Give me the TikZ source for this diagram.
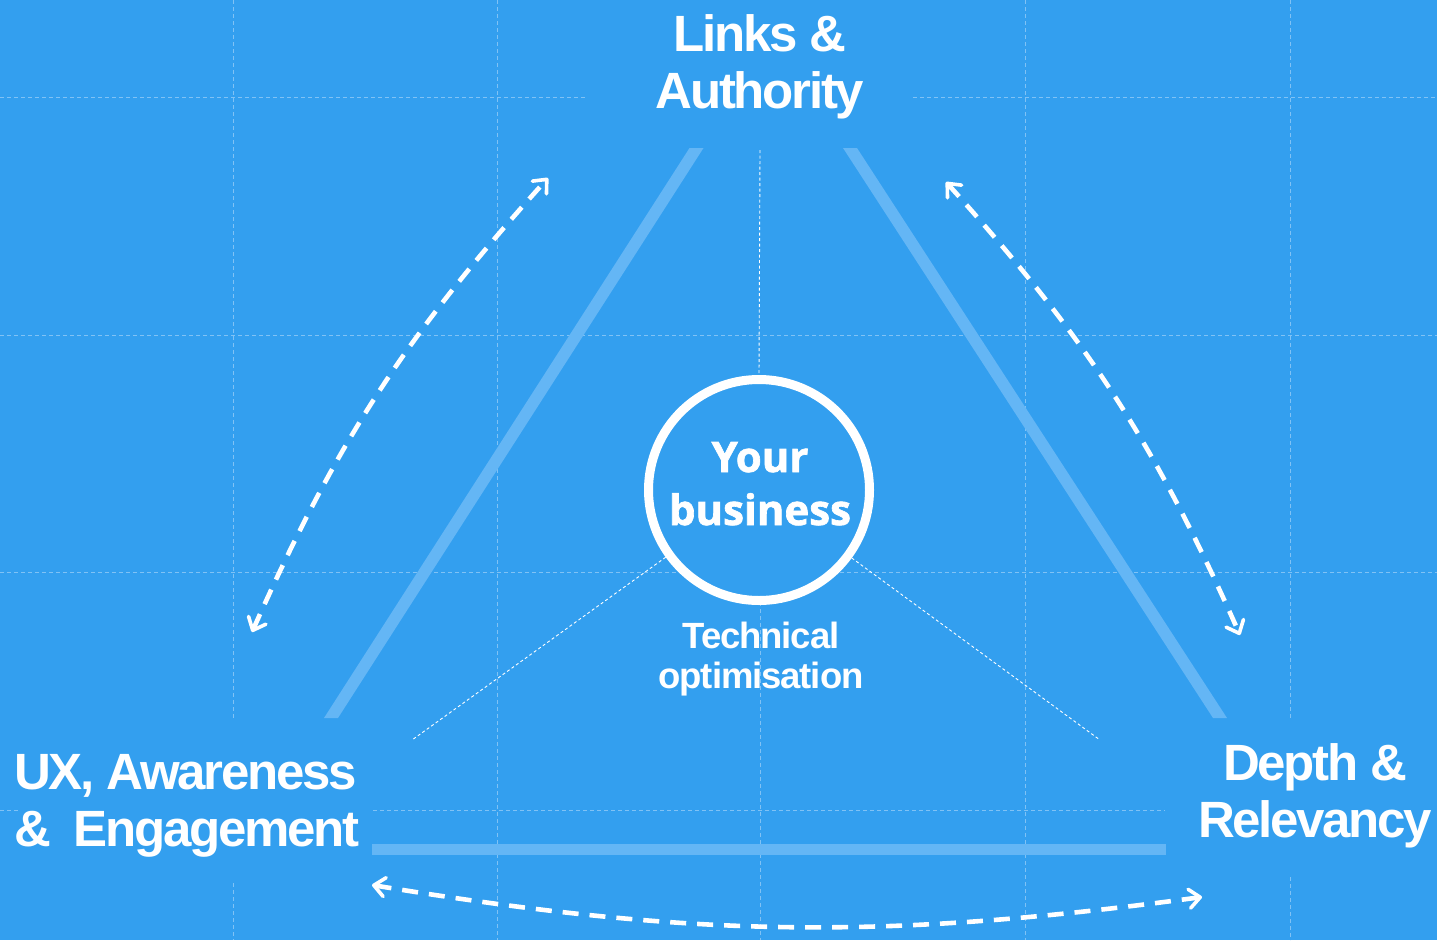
\documentclass[tikz,border=0pt]{standalone}
\usepackage{fontspec}
\setmainfont{Liberation Sans}
\newfontfamily\headfont[LetterSpace=-4.5]{Liberation Sans}
\newfontfamily\techfont[LetterSpace=-3]{Liberation Sans}
\newfontfamily\badgefont[BoldFeatures={FakeBold=1.6}]{Open Sans}
\usetikzlibrary{arrows.meta}

\definecolor{sky}{RGB}{51,159,239}
\definecolor{gridcol}{RGB}{128,194,245}
\definecolor{barcol}{RGB}{100,182,245}

\tikzset{
  barb/.tip={Straight Barb[length=11pt,width=19pt,line width=3.6pt,round]},
  gridline/.style={draw=gridcol, line width=1pt, dash pattern=on 4pt off 3pt},
  hint/.style={draw=white, line width=0.9pt, dash pattern=on 3pt off 2.5pt},
  barfill/.style={fill=barcol, draw=none},
  cyclearrow/.style={draw=white, line width=4.6pt, dash pattern=on 16pt off 11pt,
    {barb}-{barb}},
  pillar/.style={text=white, inner sep=0pt,
    font=\headfont\bfseries\fontsize{51}{57}\selectfont},
}

\begin{document}
\begin{tikzpicture}[x=1pt,y=-1pt]
  % canvas
  \fill[sky] (0,0) rectangle (1437,940);
  \useasboundingbox (0,0) rectangle (1437,940);

  % background grid, broken around the corner labels
  \draw[gridline] (0,97) -- (587,97);
  \draw[gridline] (913,97) -- (1437,97);
  \draw[gridline] (0,335) -- (1437,335);
  \draw[gridline] (0,572) -- (1437,572);
  \draw[gridline] (0,810) -- (18,810);
  \draw[gridline] (373,810) -- (1165,810);
  \draw[gridline] (233,0) -- (233,718);
  \draw[gridline] (233,883) -- (233,940);
  \draw[gridline] (497,0) -- (497,940);
  \draw[gridline] (760,490) -- (760,940);
  \draw[gridline] (1025,0) -- (1025,940);
  \draw[gridline] (1290,0) -- (1290,718);
  \draw[gridline] (1290,877) -- (1290,940);

  % the three sides of the triangle
  \fill[barfill] (689.5,148) -- (703.5,148) -- (338,718) -- (324,718) -- cycle;
  \fill[barfill] (843,148) -- (857,148) -- (1227,718) -- (1213,718) -- cycle;
  \fill[barfill] (372,843.5) rectangle (1166,854.5);

  % centre
  \node[circle, draw=white, fill=sky, line width=9pt, minimum size=221pt,
        inner sep=0pt] (biz) at (759,490) {};
  \node[text=white, align=center, inner sep=0pt,
        font=\badgefont\bfseries\fontsize{42}{53}\selectfont,
        anchor=base] (bizlabel) at (760,525) {Your\\business};
  \node[text=white, align=center, inner sep=0pt,
        font=\techfont\bfseries\fontsize{36.5}{40}\selectfont,
        anchor=base] (tech) at (761,688) {Technical\\optimisation};

  % corner labels
  \node[pillar, align=center, anchor=base] (links) at (760,108) {Links \&\\Authority};
  \node[pillar, align=left, anchor=base west] (ux) at (14,846)
        {UX, Awareness\\\&\hspace*{0.45em}Engagement};
  \node[pillar, align=center, anchor=base] (depth) at (1315,837) {Depth \&\\Relevancy};

  % thin guides from the centre
  \coordinate (topguide) at (760,150);
  \coordinate (leftguide) at (412,740);
  \coordinate (rightguide) at (1100,740);
  \draw[hint] (topguide) -- (biz.north);
  \draw[hint] (biz) -- (leftguide);
  \draw[hint] (biz) -- (rightguide);

  % mutual influence arrows
  \coordinate (lA) at (252,632);
  \coordinate (lB) at (548,178);
  \coordinate (rA) at (946,182);
  \coordinate (rB) at (1240,635);
  \coordinate (bA) at (372,885);
  \coordinate (bB) at (1202,897);
  \draw[cyclearrow] (lA) to[bend left=9] (lB);
  \draw[cyclearrow] (rA) to[bend left=9] (rB);
  \draw[cyclearrow] (bA) to[bend right=8.5] (bB);
\end{tikzpicture}
\end{document}
